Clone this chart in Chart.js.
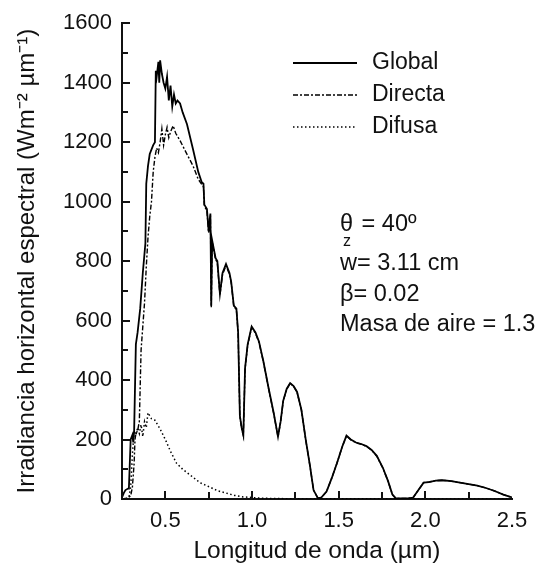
<!DOCTYPE html>
<html>
<head>
<meta charset="utf-8">
<script src="https://cdn.jsdelivr.net/npm/chart.js@4.4.1/dist/chart.umd.min.js"></script>
<style>
  html, body { margin: 0; padding: 0; background: #fff; }
  #wrap { width: 542px; height: 579px; }
</style>
</head>
<body>
<div id="wrap"><canvas id="c" width="542" height="579"></canvas></div>
<script>
// ---- data ----
const globalX = [0.25,0.26,0.27,0.285,0.29,0.295,0.30,0.31,0.315,0.32,0.33,0.34,0.355,0.37,0.385,0.39,0.40,0.41,0.43,0.44,0.445,0.45,0.46,0.465,0.47,0.48,0.49,0.50,0.51,0.52,0.53,0.54,0.55,0.56,0.57,0.585,0.60,0.625,0.66,0.69,0.71,0.72,0.725,0.74,0.75,0.76,0.765,0.77,0.79,0.80,0.815,0.83,0.85,0.87,0.88,0.895,0.91,0.92,0.93,0.94,0.95,0.96,0.975,0.998,1.02,1.04,1.065,1.095,1.125,1.15,1.165,1.18,1.20,1.22,1.24,1.26,1.285,1.31,1.335,1.355,1.38,1.40,1.43,1.46,1.49,1.52,1.545,1.57,1.60,1.63,1.66,1.69,1.72,1.755,1.785,1.81,1.83,1.90,1.93,1.96,1.99,2.02,2.06,2.10,2.15,2.20,2.25,2.30,2.35,2.40,2.45,2.50];
const globalY = [5,20,30,35,40,120,200,215,190,230,520,560,640,760,860,1060,1120,1160,1190,1200,1440,1420,1470,1400,1475,1430,1400,1380,1420,1340,1390,1320,1360,1330,1340,1330,1300,1260,1175,1100,1065,1060,990,975,900,960,650,870,810,800,690,760,790,760,730,650,640,560,280,240,215,440,520,580,560,530,465,375,290,210,260,330,370,390,380,360,300,200,110,30,3,5,25,70,120,175,213,200,190,185,178,165,145,105,60,15,2,2,5,30,55,57,62,63,60,55,50,45,37,27,15,5];

const directaX = [0.25,0.28,0.30,0.31,0.32,0.325,0.33,0.34,0.35,0.36,0.37,0.38,0.39,0.40,0.41,0.42,0.43,0.44,0.45,0.46,0.47,0.48,0.49,0.50,0.51,0.52,0.53,0.545,0.56,0.585,0.62,0.66,0.69,0.72,0.725,0.74,0.75,0.76,0.765,0.77,0.79,0.80,0.815,0.83,0.85,0.87,0.88,0.895,0.91,0.92,0.93,0.94,0.95,0.96,0.975,0.998,1.02,1.04,1.065,1.095,1.125,1.15,1.165,1.18,1.20,1.22,1.24,1.26,1.285,1.31,1.335,1.355,1.38,1.40,1.43,1.46,1.49,1.52,1.545,1.57,1.60,1.63,1.66,1.69,1.72,1.755,1.785,1.81,1.83,1.90,1.93,1.96,1.99,2.02,2.06,2.10,2.15,2.20,2.25,2.30,2.35,2.40,2.45,2.50];
const directaY = [0,3,10,40,120,200,220,230,260,500,580,660,780,880,950,1000,1100,1150,1180,1165,1200,1245,1190,1225,1250,1215,1235,1255,1230,1205,1165,1120,1075,1050,985,970,895,955,645,865,805,795,685,755,785,755,727,647,637,557,278,238,213,437,517,577,557,527,463,373,288,209,259,329,369,389,379,359,299,199,109,30,3,5,25,70,120,175,212,199,189,184,177,164,144,104,60,15,2,2,5,30,55,57,62,63,60,55,50,45,37,27,15,5];

const difusaX = [0.25,0.28,0.29,0.30,0.31,0.32,0.33,0.34,0.35,0.36,0.37,0.38,0.39,0.40,0.41,0.42,0.44,0.47,0.50,0.53,0.565,0.60,0.66,0.70,0.757,0.80,0.85,0.90,0.95,1.00,1.05,1.10,1.20,1.35,1.40,1.50,1.60,1.80,2.50];
const difusaY = [0,2,5,40,150,230,215,240,220,250,210,260,240,290,280,270,265,235,200,160,120,100,73,55,40,28,20,12,7,5,3,2,1,0,0,1,1,0,0];

const seriesNames = ['Global','Directa','Difusa'];
const yTickValues = [0,200,400,600,800,1000,1200,1400,1600];
const xTickValues = [0.5,1.0,1.5,2.0,2.5];
const xTickLabels = ['0.5','1.0','1.5','2.0','2.5'];
const annotationLines = ['w= 3.11 cm','β= 0.02','Masa de aire = 1.3'];

// ---- build ----
const zip = (xs, ys) => xs.map((x, i) => ({x: x, y: ys[i]}));
const FONT = '"Liberation Sans", Arial, Helvetica, sans-serif';
const INK = '#111';

const insidePlugin = {
  id: 'insideDecor',
  afterDraw(chart) {
    const ctx = chart.ctx;
    const xs = chart.scales.x, ys = chart.scales.y;
    const L = chart.chartArea.left, B = chart.chartArea.bottom;
    ctx.save();
    ctx.strokeStyle = INK;
    ctx.lineWidth = 2;
    for (let v = 0; v <= 1600; v += 100) {
      const py = Math.round(ys.getPixelForValue(v));
      const len = (v % 200 === 0) ? 8 : 6;
      ctx.beginPath(); ctx.moveTo(L, py); ctx.lineTo(L + len, py); ctx.stroke();
    }
    for (let k = 1; k <= 9; k++) {
      const v = 0.25 * k;
      const px = Math.round(xs.getPixelForValue(v));
      const len = (k % 2 === 0) ? 8 : 7;
      ctx.beginPath(); ctx.moveTo(px, B); ctx.lineTo(px, B - len); ctx.stroke();
    }
    const legY = [63, 95, 127];
    chart.data.datasets.forEach((ds, i) => {
      ctx.save();
      ctx.strokeStyle = ds.borderColor;
      ctx.lineWidth = ds.borderWidth;
      ctx.setLineDash(ds.borderDash || []);
      ctx.beginPath(); ctx.moveTo(293, legY[i]); ctx.lineTo(357, legY[i]); ctx.stroke();
      ctx.restore();
      ctx.fillStyle = INK;
      ctx.font = '23px ' + FONT;
      ctx.textBaseline = 'middle';
      ctx.textAlign = 'left';
      ctx.fillText(ds.label, 372, legY[i]);
    });
    ctx.fillStyle = INK;
    ctx.textBaseline = 'middle';
    ctx.textAlign = 'left';
    ctx.font = '23.5px ' + FONT;
    const ax = 340;
    ctx.fillText('θ', ax, 225);
    const tw = ctx.measureText('θ').width;
    ctx.font = '16px ' + FONT;
    ctx.fillText('z', ax + 3, 242);
    ctx.font = '23.5px ' + FONT;
    ctx.fillText(' = 40º', ax + tw + 2, 225);
    const ly = [264, 295, 325];
    annotationLines.forEach((t, i) => ctx.fillText(t, ax, ly[i]));
    ctx.restore();
  }
};

new Chart(document.getElementById('c'), {
  type: 'line',
  data: {
    datasets: [
      { label: seriesNames[0], data: zip(globalX, globalY), borderColor: '#000', borderWidth: 1.8, pointRadius: 0, tension: 0, fill: false },
      { label: seriesNames[1], data: zip(directaX, directaY), borderColor: '#000', borderWidth: 1.4, borderDash: [5, 2, 2, 2], pointRadius: 0, tension: 0, fill: false },
      { label: seriesNames[2], data: zip(difusaX, difusaY), borderColor: '#000', borderWidth: 1.5, borderDash: [1.5, 2.5], pointRadius: 0, tension: 0, fill: false }
    ]
  },
  options: {
    responsive: false,
    animation: false,
    devicePixelRatio: 1,
    layout: { padding: { top: 19, right: 30, left: 0, bottom: 0 } },
    plugins: { legend: { display: false }, tooltip: { enabled: false } },
    scales: {
      x: {
        type: 'linear', min: 0.25, max: 2.5,
        grid: { display: false, drawTicks: false },
        border: { display: true, color: INK, width: 2 },
        afterBuildTicks: (s) => { s.ticks = xTickValues.map(v => ({ value: v })); },
        afterFit: (s) => { s.height = 80; },
        ticks: {
          padding: 9, color: INK, font: { family: FONT, size: 22 }, maxRotation: 0,
          callback: (v) => { const i = xTickValues.indexOf(v); return i >= 0 ? xTickLabels[i] : ''; }
        },
        title: { display: true, text: 'Longitud de onda (µm)', color: INK, font: { family: FONT, size: 24.5 }, padding: { top: 0, bottom: 13 } }
      },
      y: {
        type: 'linear', min: 0, max: 1600,
        grid: { display: false, drawTicks: false },
        border: { display: true, color: INK, width: 2 },
        afterBuildTicks: (s) => { s.ticks = yTickValues.map(v => ({ value: v })); },
        afterFit: (s) => { s.width = 122; },
        ticks: { padding: 10, color: INK, font: { family: FONT, size: 22 }, callback: (v) => String(v) },
        title: { display: true, text: 'Irradiancia horizontal espectral (Wm⁻² µm⁻¹)', color: INK, font: { family: FONT, size: 24 }, padding: { top: 13, bottom: 0 } }
      }
    }
  },
  plugins: [insidePlugin]
});
</script>
</body>
</html>
